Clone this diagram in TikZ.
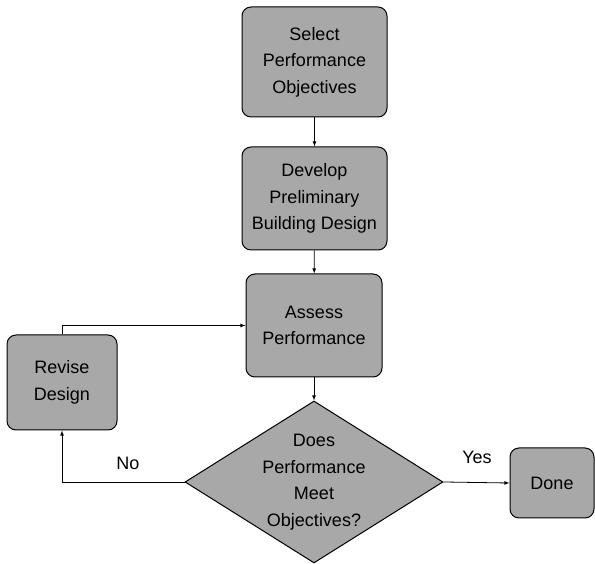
\documentclass[tikz,border=0pt]{standalone}
\usepackage{fontspec}
\setmainfont{Liberation Sans}
\usetikzlibrary{shapes,arrows,positioning,calc}
\definecolor{boxgray}{RGB}{168,168,168}

\begin{document}
\begin{tikzpicture}[x=1pt, y=1pt, >=latex,
    stepbox/.style={draw, line width=1pt, fill=boxgray, rounded corners=9pt,
        align=center, inner sep=0pt, font=\fontsize{18}{26.5}\selectfont},
    decision/.style={draw, line width=1pt, fill=boxgray, diamond, inner sep=0pt,
        minimum width=258pt, minimum height=162pt},
    flow/.style={->, line width=0.8pt}]
    \useasboundingbox (0,0) rectangle (595,564);
    % Process boxes
    \node[stepbox, minimum width=145pt, minimum height=110pt] (select) at (314.5,502)
        {Select\\Performance\\Objectives};
    \node[stepbox, minimum width=145pt, minimum height=103pt] (develop) at (314.5,365.5)
        {Develop\\Preliminary\\Building Design};
    \node[stepbox, minimum width=136pt, minimum height=103pt] (assess) at (314,238.5)
        {Assess\\Performance};
    \node[stepbox, minimum width=110pt, minimum height=95pt] (revise) at (62,181.5)
        {Revise\\Design};
    \node[stepbox, minimum width=84pt, minimum height=70pt] (done) at (552,81)
        {Done};
    % Decision
    \node[decision, label={[align=center, font=\fontsize{18}{26.5}\selectfont]center:Does\\Performance\\Meet\\Objectives?}] (check) at (314,82) {};
    % Connectors
    \draw[flow] (select) -- (develop);
    \draw[flow] (develop) -- (assess);
    \draw[flow] (assess) -- (check);
    \draw[flow] (check.east) -- (done.west);
    \draw[flow] (check.west) -| (revise.south);
    \draw[flow] (revise.north) |- (assess.west);
    % Labels
    \node[font=\fontsize{18}{22}\selectfont] (yes) at (477,107) {Yes};
    \node[font=\fontsize{18}{22}\selectfont] (no) at (128,101) {No};
\end{tikzpicture}
\end{document}
